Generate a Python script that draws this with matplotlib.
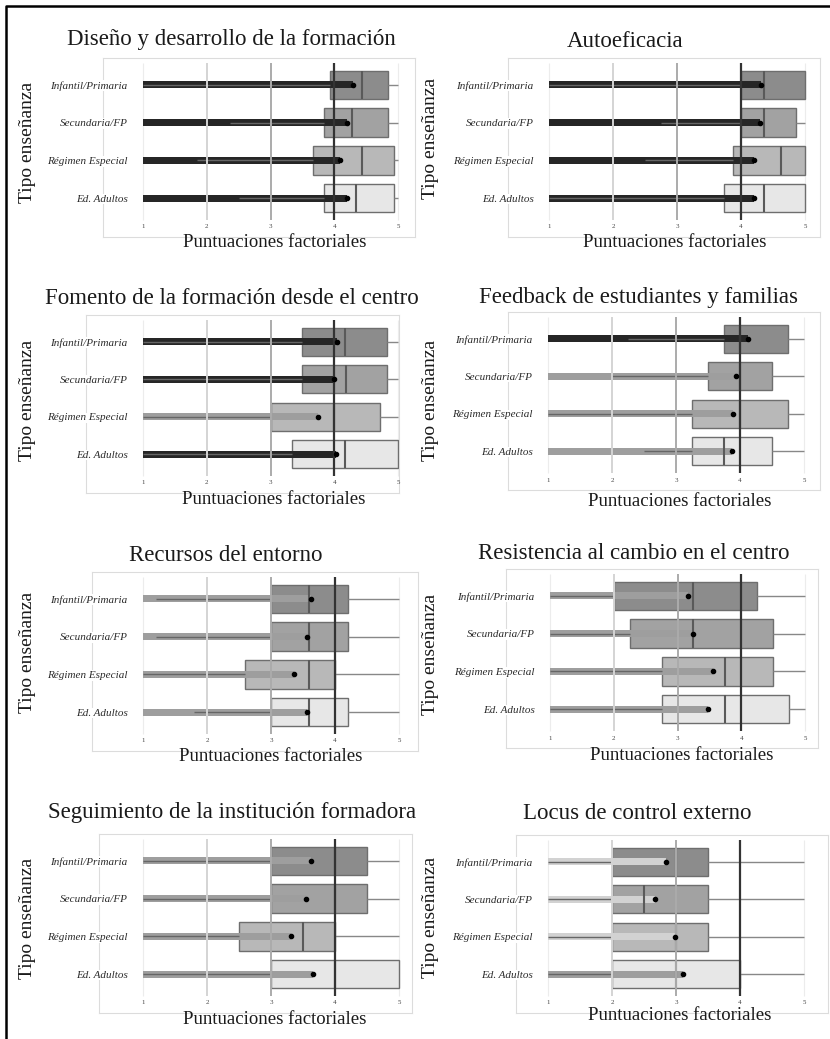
import matplotlib
matplotlib.use("Agg")
import matplotlib.pyplot as plt
import numpy as np

plt.rcParams['font.family'] = ['Liberation Serif', 'DejaVu Serif']

# Datos
categorias = ['Infantil/Primaria', 'Secundaria/FP', 'Régimen Especial', 'Ed. Adultos']

titulos = ['Diseño y desarrollo de la formación', 'Autoeficacia',
           'Fomento de la formación desde el centro', 'Feedback de estudiantes y familias',
           'Recursos del entorno', 'Resistencia al cambio en el centro',
           'Seguimiento de la institución formadora', 'Locus de control externo']

# cuartil 1, mediana, cuartil 3, media, mínimo y máximo de cada panel
q1_diseno = [3.93, 3.84, 3.67, 3.84]
med_diseno = [4.43, 4.28, 4.43, 4.34]
q3_diseno = [4.84, 4.84, 4.93, 4.93]
media_diseno = [4.29, 4.20, 4.09, 4.20]
min_diseno = [1.0, 2.36, 1.84, 2.5]
max_diseno = [5, 5, 5, 5]

q1_autoef = [4.0, 4.0, 3.87, 3.74]
med_autoef = [4.36, 4.36, 4.62, 4.36]
q3_autoef = [5.0, 4.86, 5.0, 5.0]
media_autoef = [4.32, 4.29, 4.21, 4.21]
min_autoef = [1.0, 2.75, 2.5, 1.0]
max_autoef = [5, 5, 5, 5]

q1_fomento = [3.5, 3.5, 3.0, 3.34]
med_fomento = [4.17, 4.18, 4.0, 4.17]
q3_fomento = [4.83, 4.83, 4.71, 5.0]
media_fomento = [4.05, 4.0, 3.75, 4.03]
min_fomento = [1, 1, 1, 1]
max_fomento = [5, 5, 5, 5]

q1_feedback = [3.75, 3.5, 3.25, 3.25]
med_feedback = [4.0, 4.0, 4.0, 3.75]
q3_feedback = [4.75, 4.5, 4.75, 4.5]
media_feedback = [4.12, 3.93, 3.89, 3.87]
min_feedback = [2.25, 2.0, 1.0, 2.5]
max_feedback = [5, 5, 5, 5]

q1_recursos = [3.0, 3.0, 2.6, 3.0]
med_recursos = [3.6, 3.6, 3.6, 3.6]
q3_recursos = [4.2, 4.2, 4.0, 4.2]
media_recursos = [3.63, 3.56, 3.36, 3.56]
min_recursos = [1.2, 1.2, 1.0, 1.8]
max_recursos = [5, 5, 5, 5]

q1_resist = [2.0, 2.25, 2.75, 2.75]
med_resist = [3.25, 3.25, 3.75, 3.75]
q3_resist = [4.25, 4.5, 4.5, 4.75]
media_resist = [3.17, 3.24, 3.55, 3.48]
min_resist = [1, 1, 1, 1]
max_resist = [5, 5, 5, 5]

q1_seguim = [3.0, 3.0, 2.5, 3.0]
med_seguim = [4.0, 4.0, 3.5, 4.0]
q3_seguim = [4.5, 4.5, 4.0, 5.0]
media_seguim = [3.62, 3.55, 3.31, 3.65]
min_seguim = [1, 1, 1, 1]
max_seguim = [5, 5, 5, 5]

q1_locus = [2.0, 2.0, 2.0, 2.0]
med_locus = [3.0, 2.5, 3.0, 3.0]
q3_locus = [3.5, 3.5, 3.5, 4.0]
media_locus = [2.84, 2.67, 2.98, 3.11]
min_locus = [1, 1, 1, 1]
max_locus = [5, 5, 5, 5]

paneles = [
    (q1_diseno, med_diseno, q3_diseno, media_diseno, min_diseno, max_diseno),
    (q1_autoef, med_autoef, q3_autoef, media_autoef, min_autoef, max_autoef),
    (q1_fomento, med_fomento, q3_fomento, media_fomento, min_fomento, max_fomento),
    (q1_feedback, med_feedback, q3_feedback, media_feedback, min_feedback, max_feedback),
    (q1_recursos, med_recursos, q3_recursos, media_recursos, min_recursos, max_recursos),
    (q1_resist, med_resist, q3_resist, media_resist, min_resist, max_resist),
    (q1_seguim, med_seguim, q3_seguim, media_seguim, min_seguim, max_seguim),
    (q1_locus, med_locus, q3_locus, media_locus, min_locus, max_locus),
]

# Posiciones en píxeles: marco (izq, arriba, der, abajo), x=1 y x=5, título, etiqueta x, etiqueta y
marcos = [(103, 58, 415, 237), (508, 58, 820, 237),
          (86, 315, 399, 493), (508, 312, 820, 490),
          (92, 572, 418, 751), (506, 569, 818, 748),
          (99, 834, 412, 1013), (516, 835, 828, 1013)]
ejes_x = [(143, 398), (549, 805), (143, 398), (548, 804),
          (143, 399), (550, 805), (143, 399), (548, 804)]
pos_titulo = [(231, 45), (625, 47), (232, 304), (638, 303),
              (226, 561), (634, 559), (232, 818), (637, 819)]
pos_xlabel = [(275, 247), (675, 247), (274, 504), (680, 506),
              (271, 761), (682, 760), (275, 1024), (680, 1020)]
pos_ylabel = [(27, 142), (430, 138), (27, 400), (430, 400),
              (27, 652), (430, 654), (27, 918), (430, 917)]

colores_caja = ['#8c8c8c', '#a2a2a2', '#b8b8b8', '#e7e7e7']

W, H = 830, 1039
fig = plt.figure(figsize=(W / 100, H / 100), dpi=100)

ypos = np.array([4, 3, 2, 1])

for i in range(8):
    q1, med, q3, media, mn, mx = [np.array(a, dtype=float) for a in paneles[i]]
    l, t, r, b = marcos[i]
    x1, x5 = ejes_x[i]
    ppu = (x5 - x1) / 4
    ax = fig.add_axes([l / W, 1 - b / H, (r - l) / W, (b - t) / H])
    xl = 1 - (x1 - l) / ppu
    xr = 5 + (r - x5) / ppu
    ax.set_xlim(xl, xr)
    ax.set_ylim(-0.03, 4.71)

    # cuadrícula exterior
    ax.vlines([1, 5], 0.42, 4.58, color='#ececec', lw=0.8, zorder=1)
    # cajas
    ax.barh(ypos, q3 - q1, left=q1, height=0.75, color=colores_caja,
            edgecolor='#6e6e6e', linewidth=1, zorder=2)
    # barra de la media
    col_barra = ['#262626' if m >= 4 else ('#9e9e9e' if m >= 3 else '#d2d2d2') for m in media]
    ax.barh(ypos, media - 1, left=1, height=0.18, color=col_barra, zorder=3)
    # bigotes
    ax.hlines(ypos, mn, q1, color='#666666', lw=1, zorder=4)
    ax.hlines(ypos, q3, mx, color='#888888', lw=1, zorder=4)
    # medianas
    ax.vlines(med, ypos - 0.375, ypos + 0.375, color='#5a5a5a', lw=1.5, zorder=5)
    # líneas de referencia
    ax.vlines([2], 0.42, 4.58, color='#d4d4d4', lw=1.4, zorder=6)
    ax.vlines([3], 0.42, 4.58, color='#ababab', lw=1.4, zorder=6)
    ax.vlines([4], 0.42, 4.58, color='#333333', lw=1.6, zorder=7)
    # media
    ax.plot(media, ypos, 'o', color='black', markersize=3, zorder=8)

    ax.set_xticks([1, 2, 3, 4, 5])
    ax.set_xticklabels(['1', '2', '3', '4', '5'], fontsize=5, color='#444444')
    ax.tick_params(axis='x', length=0, pad=-9)
    pad_y = (0.76 - xl) * ppu * 0.72
    ax.set_yticks(ypos)
    ax.set_yticklabels(categorias, fontsize=8, fontstyle='italic', color='#2a2a2a')
    for lab in ax.get_yticklabels():
        lab.set_bbox(dict(facecolor='white', edgecolor='none', pad=0.5))
    ax.tick_params(axis='y', length=0, pad=-pad_y)
    ax.yaxis.set_zorder(9)
    for s in ax.spines.values():
        s.set_color('#dcdcdc')
        s.set_linewidth(0.8)
        s.set_zorder(0.5)

    fig.text(pos_titulo[i][0] / W, 1 - pos_titulo[i][1] / H, titulos[i],
             ha='center', va='baseline', fontsize=16.5, color='#1a1a1a')
    fig.text(pos_xlabel[i][0] / W, 1 - pos_xlabel[i][1] / H, 'Puntuaciones factoriales',
             ha='center', va='baseline', fontsize=13.5, color='#1a1a1a')
    fig.text(pos_ylabel[i][0] / W, 1 - pos_ylabel[i][1] / H, 'Tipo enseñanza',
             ha='center', va='center', rotation=90, fontsize=14, color='#1a1a1a')

# marco exterior
fig.add_artist(plt.Line2D([6 / W, 6 / W, 1], [0, 1 - 6 / H, 1 - 6 / H],
                          transform=fig.transFigure, color='black', lw=1.8))

fig.savefig('out.png', dpi=100)
